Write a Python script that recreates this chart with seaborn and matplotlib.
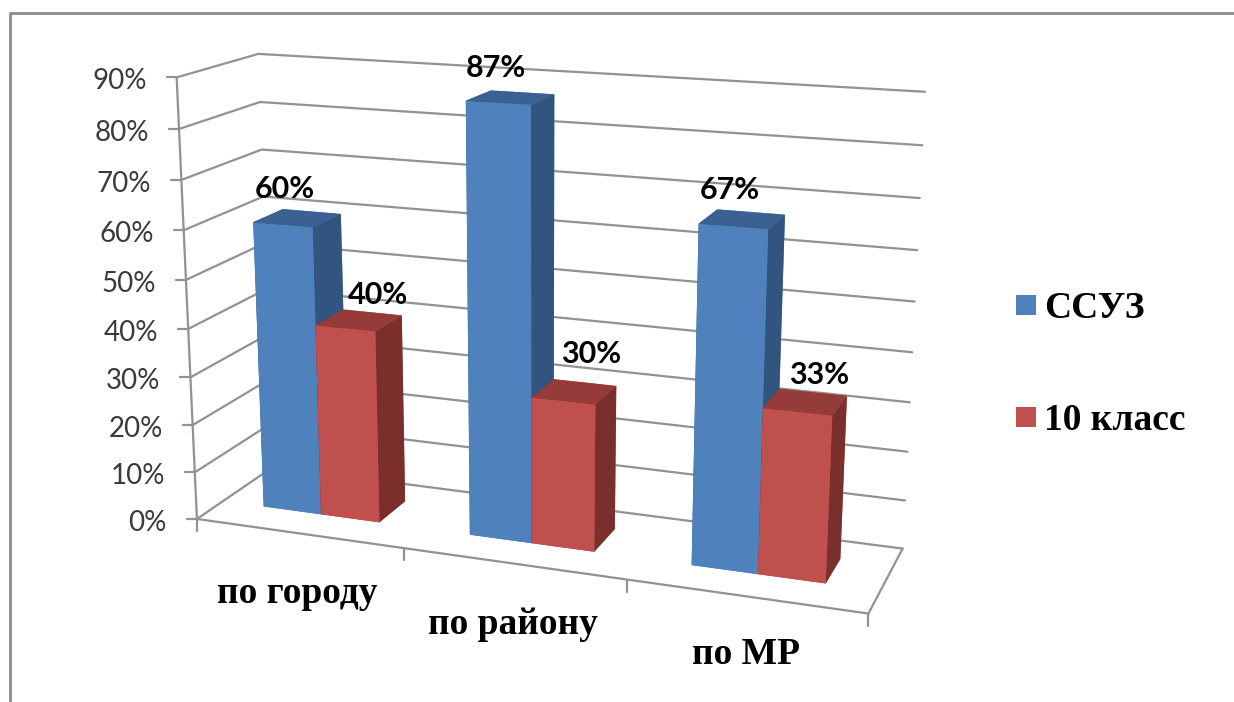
import numpy as np
import matplotlib
matplotlib.use("Agg")
import matplotlib.pyplot as plt
import seaborn as sns
from matplotlib.patches import Rectangle

sns.set_theme(style="white")

categories = ["по городу", "по району", "по МР"]
series_names = ["ССУЗ", "10 класс"]
ssuz = [60, 87, 67]
tenth = [40, 30, 33]
ticks = [0, 10, 20, 30, 40, 50, 60, 70, 80, 90]

front = sns.color_palette(["#4f81bd", "#c0504d"])
top = sns.color_palette(["#3a6192", "#953b39"])
side = sns.color_palette(["#32557f", "#7b2f2d"])
grid_c = "#929292"
W, H = 1234, 702

# camera: where the corners of the chart box land in the picture
box_corners = [(0, 0, 0), (3, 0, 0), (3, 1, 0), (0, 1, 0), (0, 0, 90), (0, 1, 90), (3, 1, 90)]
box_pixels = [(197, 518), (868, 615), (903, 547), (273, 468), (177, 77), (258, 54), (925, 92)]

rows = []
for (x, y, z), (u, v) in zip(box_corners, box_pixels):
    p = np.array([x / 3, y, z / 90, 1])
    rows.append(np.r_[p, 0 * p, -u / 1000 * p])
    rows.append(np.r_[0 * p, p, -v / 1000 * p])
cam = np.linalg.svd(np.array(rows))[2][-1].reshape(3, 4)
cam = np.diag([1000, 1000, 1]) @ cam @ np.diag([1 / 3, 1, 1 / 90, 1])
if cam[2, 3] < 0:
    cam = -cam


def to_px(x, y, z):
    u, v, w = cam @ np.array([x, y, z, 1])
    return u / w, v / w


fig = plt.figure(figsize=(W / 100, H / 100), dpi=100)
fig.patch.set_facecolor("white")
# 3d axes are kept square, so make it as wide as the figure
ax = fig.add_axes([0, (H - W) / 2 / H, 1, W / H], projection="3d", computed_zorder=False)
ax.set_axis_off()

# walls and floor
for t in ticks:
    ax.plot([0, 0, 3], [0, 1, 1], [t, t, t], color=grid_c, lw=1.6, zorder=1)
ax.plot([0, 3, 3], [0, 0, 1], [0, 0, 0], color=grid_c, lw=1.6, zorder=1)
ax.plot([0, 0], [0, 0], [0, 90], color=grid_c, lw=1.6, zorder=1)

bar_w = 0.285
depth = 0.385
y0 = 0.33
shift = 0.49


def draw_bar(x, h, s, z):
    faces = [front[s], top[s], front[s], front[s], side[s], side[s]]
    ax.bar3d(x, y0, 0, bar_w, depth, h, color=faces, shade=False, zorder=z, linewidth=0)


for i in range(len(categories)):
    left = i + shift - bar_w
    draw_bar(left, ssuz[i], 0, 2 + i * 2)
    draw_bar(left + bar_w, tenth[i], 1, 3 + i * 2)

# everything flat goes on a pixel axes above the 3d one
over = fig.add_axes([0, 0, 1, 1])
over.set_axis_off()
over.patch.set_alpha(0)
over.set_xlim(0, W)
over.set_ylim(H, 0)

for t in ticks:
    u, v = to_px(0, 0, t)
    over.plot([u - 10, u], [v, v], color=grid_c, lw=1.6)
    over.annotate(f"{t}%", (u, v), xytext=(-30, -4), textcoords="offset pixels", ha="right", va="center",
                  fontsize=20, color="#3a3a3a", family="Lato")

for x in range(4):
    u, v = to_px(x, 0, 0)
    over.plot([u, u], [v, v + 12], color=grid_c, lw=1.6)

# label nudges, in pixels
blue_dx, blue_dy = [2, -2, -3], [36, 35, 36]
red_dx, red_dy = [33, 28, 22], [34, 47, 37]
cat_dx, cat_dy = [-1, -1, 1], [-60, -61, -58]

for i, name in enumerate(categories):
    u, v = to_px(i + 0.5, 0, 0)
    over.annotate(name, (u, v), xytext=(cat_dx[i], cat_dy[i]), textcoords="offset pixels", ha="center", va="center",
                  fontsize=27, fontweight="bold", family="Liberation Serif", color="black")

    left = i + shift - bar_w
    u, v = to_px(left + bar_w / 2, y0, ssuz[i])
    over.annotate(f"{ssuz[i]}%", (u, v), xytext=(blue_dx[i], blue_dy[i]), textcoords="offset pixels", ha="center",
                  va="center", fontsize=22, fontweight="bold", family="Lato", color="black")
    u, v = to_px(left + bar_w * 1.5, y0, tenth[i])
    over.annotate(f"{tenth[i]}%", (u, v), xytext=(red_dx[i], red_dy[i]), textcoords="offset pixels", ha="center",
                  va="center", fontsize=22, fontweight="bold", family="Lato", color="black")

# legend
for name, c, y in zip(series_names, front, [305, 417]):
    over.add_patch(Rectangle((1016, y - 10), 20, 20, color=c, lw=0))
    over.text(1044, y + 3, name, fontsize=27, fontweight="bold", family="Liberation Serif", va="center", color="black")

# picture frame
over.plot([10, 10, W], [H, 12.5, 12.5], color="#8c8c8c", lw=2)

# hand the camera to the 3d axes, scaled to its own 2d limits
# (depth row has to stay negative or mplot3d clips the lines away)
ax.apply_aspect()
inv = ax.transData.inverted()
(x_a, y_a), (x_b, y_b) = inv.transform([(0, H), (W, 0)])
sx, sy = (x_b - x_a) / W, (y_b - y_a) / H
proj = np.array([
    sx * cam[0] + x_a * cam[2],
    sy * cam[1] + y_a * cam[2],
    [0, 0, 0, -1.0],
    cam[2],
])
ax.get_proj = lambda: proj

fig.savefig("out.png", dpi=100)
